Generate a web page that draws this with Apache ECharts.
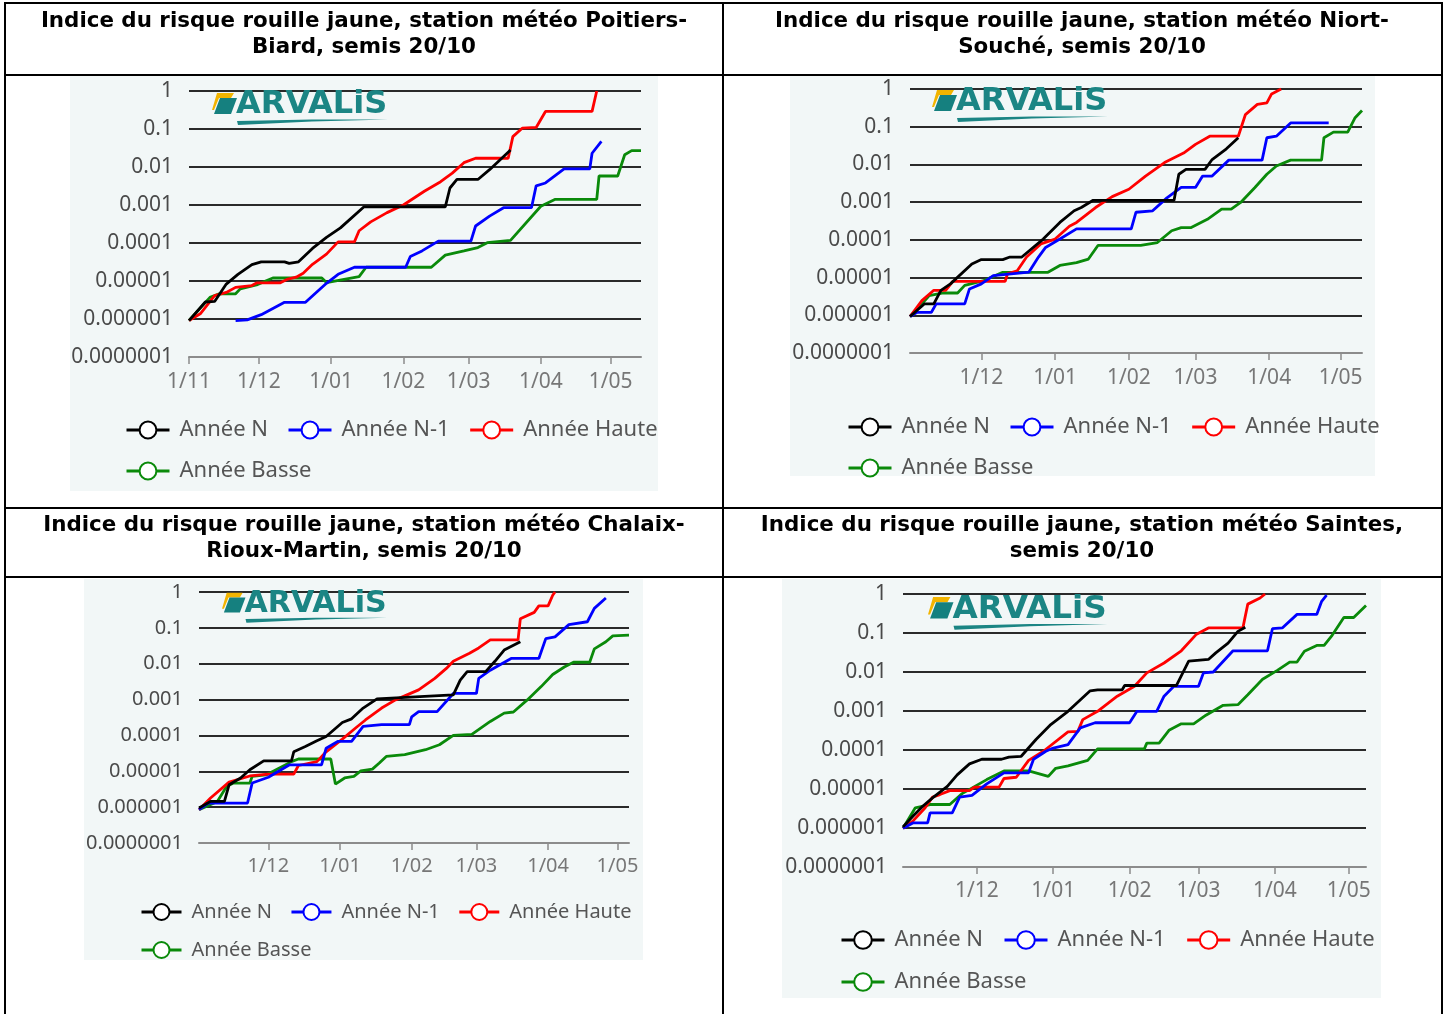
<!DOCTYPE html>
<html><head><meta charset="utf-8">
<script src="https://cdn.jsdelivr.net/npm/echarts/dist/echarts.min.js"></script>
<style>html,body{margin:0;padding:0;background:#fff}#c{width:1445px;height:1014px}</style>
</head><body><div id="c"></div>
<script>
// ---------- DATA ----------
const seriesNames = ['Année N', 'Année N-1', 'Année Haute', 'Année Basse'];
const monthTickDays = [0, 30, 61, 92, 120, 151, 181];            // days since 1 Nov
const monthTickLabels = ['1/11', '1/12', '1/01', '1/02', '1/03', '1/04', '1/05'];
const yTickLabels = ['0.0000001', '0.000001', '0.00001', '0.0001', '0.001', '0.01', '0.1', '1'];
const titleLines = [
  ['Indice du risque rouille jaune, station météo Poitiers-', 'Biard, semis 20/10'],
  ['Indice du risque rouille jaune, station météo Niort-', 'Souché, semis 20/10'],
  ['Indice du risque rouille jaune, station météo Chalaix-', 'Rioux-Martin, semis 20/10'],
  ['Indice du risque rouille jaune, station météo Saintes,', 'semis 20/10']
];
const logoText = 'ARVALiS';

// [day since 1 Nov, risk index]
const poitiersN = [[0,9.1e-7],[7,2.8e-6],[11,2.9e-6],[16,8.3e-6],[21,1.5e-5],[27,2.7e-5],[31,3.2e-5],[41,3.2e-5],[43,2.9e-5],[47,3.2e-5],[53,7.2e-5],[59,1.4e-4],[65,2.5e-4],[75,8.9e-4],[110,8.9e-4],[112,2.8e-3],[115,4.7e-3],[124,4.7e-3],[129,8.5e-3],[138,2.8e-2]];
const poitiersN1 = [[20,9.1e-7],[25,9.5e-7],[31,1.3e-6],[41,2.75e-6],[50,2.75e-6],[59,8.7e-6],[64,1.5e-5],[71,2.3e-5],[93,2.3e-5],[95,4.4e-5],[100,6.2e-5],[107,1.12e-4],[121,1.12e-4],[123,2.8e-4],[129,5.1e-4],[135,8.5e-4],[147,8.5e-4],[149,3.2e-3],[153,3.8e-3],[161,8.9e-3],[172,8.9e-3],[173,2.3e-2],[177,4.7e-2]];
const poitiersHaute = [[0,9.1e-7],[5,1.4e-6],[11,4.1e-6],[16,5.0e-6],[20,6.8e-6],[27,7.6e-6],[29,8.9e-6],[39,8.9e-6],[42,1.1e-5],[46,1.26e-5],[49,1.6e-5],[53,2.75e-5],[59,5.1e-5],[64,1.07e-4],[71,1.07e-4],[73,2.1e-4],[78,3.6e-4],[85,6.3e-4],[92,1.0e-3],[101,2.3e-3],[108,4.1e-3],[113,6.9e-3],[118,1.3e-2],[123,1.7e-2],[137,1.7e-2],[139,6.3e-2],[143,0.105],[149,0.11],[153,0.29],[173,0.29],[175,1]];
const poitiersBasse = [[0,9.1e-7],[9,3.7e-6],[13,4.6e-6],[20,4.6e-6],[22,6.2e-6],[29,7.9e-6],[36,1.2e-5],[57,1.2e-5],[59,9.1e-6],[73,1.3e-5],[76,2.3e-5],[104,2.3e-5],[110,4.8e-5],[118,6.2e-5],[124,7.6e-5],[128,1.02e-4],[138,1.17e-4],[151,9.3e-4],[157,1.4e-3],[175,1.4e-3],[176,5.8e-3],[184,5.8e-3],[187,2.1e-2],[190,2.7e-2],[194,2.7e-2]];

const niortN = [[0,9.3e-7],[6,2.0e-6],[10,2.0e-6],[13,4.6e-6],[17,6.8e-6],[26,2.3e-5],[30,3.0e-5],[39,3.0e-5],[42,3.5e-5],[47,3.5e-5],[56,1.05e-4],[63,2.9e-4],[69,5.9e-4],[72,7.2e-4],[77,1.12e-3],[111,1.12e-3],[113,5.5e-3],[116,7.4e-3],[124,7.4e-3],[127,1.35e-2],[133,2.6e-2],[138,5.1e-2]];
const niortN1 = [[0,9.3e-7],[3,1.2e-6],[9,1.2e-6],[11,2.0e-6],[23,2.0e-6],[25,5.0e-6],[30,6.8e-6],[35,1.12e-5],[50,1.4e-5],[54,3.5e-5],[57,6.3e-5],[63,1.05e-4],[70,1.95e-4],[93,1.95e-4],[95,5.4e-4],[102,5.9e-4],[108,1.3e-3],[114,2.45e-3],[120,2.45e-3],[123,4.9e-3],[127,4.9e-3],[134,1.3e-2],[148,1.3e-2],[150,5.1e-2],[154,5.6e-2],[160,0.126],[176,0.126]];
const niortHaute = [[0,9.3e-7],[5,2.45e-6],[10,4.6e-6],[15,4.6e-6],[18,7.9e-6],[40,7.9e-6],[41,1.26e-5],[45,1.5e-5],[49,3.5e-5],[55,7.8e-5],[61,1.05e-4],[67,2.3e-4],[70,2.9e-4],[78,7.2e-4],[85,1.4e-3],[92,2.2e-3],[99,4.9e-3],[107,1.12e-2],[115,2.0e-2],[120,3.4e-2],[126,5.6e-2],[138,5.6e-2],[141,0.21],[146,0.39],[150,0.43],[152,0.74],[156,1]];
const niortBasse = [[0,9.3e-7],[5,2.0e-6],[8,3.3e-6],[14,3.9e-6],[20,3.9e-6],[23,6.2e-6],[31,8.3e-6],[39,1.38e-5],[58,1.38e-5],[63,2.1e-5],[70,2.5e-5],[75,3.1e-5],[79,7.1e-5],[97,7.1e-5],[104,8.5e-5],[110,1.74e-4],[114,2.1e-4],[118,2.1e-4],[125,3.5e-4],[131,6.5e-4],[135,6.5e-4],[139,9.8e-4],[145,2.45e-3],[150,5.5e-3],[154,9.1e-3],[160,1.3e-2],[173,1.3e-2],[174,5.1e-2],[178,7.2e-2],[184,7.2e-2],[187,0.17],[190,0.27]];

const chalaixN = [[0,9.5e-7],[5,1.45e-6],[11,1.45e-6],[13,4.2e-6],[18,6.5e-6],[22,1.1e-5],[28,1.95e-5],[40,1.95e-5],[41,3.5e-5],[46,4.9e-5],[51,7.1e-5],[55,9.3e-5],[62,2.3e-4],[66,2.9e-4],[71,5.8e-4],[77,1.05e-3],[110,1.35e-3],[113,3.5e-3],[116,6.0e-3],[124,6.0e-3],[128,1.17e-2],[132,2.4e-2],[139,4.1e-2]];
const chalaixN1 = [[0,8.5e-7],[4,1.3e-6],[21,1.3e-6],[23,4.7e-6],[30,6.8e-6],[39,1.5e-5],[53,1.5e-5],[55,4.4e-5],[60,6.8e-5],[66,6.8e-5],[71,1.78e-4],[79,2.0e-4],[91,2.0e-4],[92,3.3e-4],[95,4.6e-4],[103,4.6e-4],[110,1.48e-3],[120,1.48e-3],[121,3.9e-3],[126,6.6e-3],[135,1.4e-2],[147,1.4e-2],[150,5.0e-2],[154,5.6e-2],[160,0.123],[168,0.148],[171,0.35],[176,0.68]];
const chalaixHaute = [[0,8.5e-7],[5,1.8e-6],[13,5.0e-6],[22,7.4e-6],[30,8.3e-6],[41,8.3e-6],[43,1.45e-5],[51,1.86e-5],[55,3.5e-5],[62,7.9e-5],[68,1.66e-4],[72,2.7e-4],[79,5.8e-4],[85,9.8e-4],[95,1.86e-3],[102,3.9e-3],[107,7.4e-3],[110,1.17e-2],[117,1.95e-2],[121,2.75e-2],[126,4.6e-2],[138,4.6e-2],[139,0.18],[145,0.27],[147,0.41],[151,0.41],[153,0.81],[154,1]];
const chalaixBasse = [[0,8.5e-7],[8,1.45e-6],[12,3.8e-6],[15,4.7e-6],[22,4.7e-6],[23,7.2e-6],[29,7.9e-6],[40,1.86e-5],[43,2.2e-5],[57,2.2e-5],[59,4.4e-6],[63,6.5e-6],[67,7.2e-6],[70,1.02e-5],[75,1.15e-5],[78,1.7e-5],[81,2.6e-5],[89,2.9e-5],[98,4.0e-5],[104,5.5e-5],[110,1.0e-4],[118,1.07e-4],[126,2.45e-4],[132,4.2e-4],[136,4.5e-4],[142,9.8e-4],[148,2.3e-3],[153,5.0e-3],[158,8.1e-3],[162,1.1e-2],[169,1.1e-2],[171,2.6e-2],[176,4.1e-2],[179,6.0e-2],[186,6.3e-2]];

const saintesN = [[0,1.07e-6],[4,2.0e-6],[8,3.6e-6],[12,5.9e-6],[18,1.17e-5],[22,2.3e-5],[27,4.4e-5],[32,5.8e-5],[40,5.8e-5],[43,6.6e-5],[48,6.9e-5],[54,1.86e-4],[60,4.5e-4],[67,9.8e-4],[76,3.3e-3],[79,3.5e-3],[89,3.5e-3],[90,4.5e-3],[111,4.5e-3],[116,1.9e-2],[124,2.1e-2],[127,3.1e-2],[132,5.5e-2],[136,0.11],[139,0.14]];
const saintesN1 = [[0,9.8e-7],[4,1.35e-6],[10,1.35e-6],[11,2.45e-6],[20,2.45e-6],[23,6.2e-6],[28,6.9e-6],[34,1.35e-5],[41,2.6e-5],[51,2.6e-5],[53,5.8e-5],[58,9.3e-5],[61,1.12e-4],[67,1.38e-4],[72,3.7e-4],[78,5.0e-4],[92,5.0e-4],[95,9.8e-4],[103,9.8e-4],[106,2.4e-3],[110,4.3e-3],[120,4.3e-3],[122,9.5e-3],[126,1.0e-2],[134,3.5e-2],[148,3.5e-2],[150,0.129],[154,0.135],[160,0.3],[168,0.3],[170,0.65],[172,0.93]];
const saintesHaute = [[0,9.8e-7],[4,1.5e-6],[9,3.3e-6],[12,6.2e-6],[15,7.2e-6],[19,9.1e-6],[27,9.1e-6],[29,1.12e-5],[39,1.12e-5],[41,1.86e-5],[46,2.0e-5],[51,5.4e-5],[57,9.3e-5],[67,2.9e-4],[71,3.0e-4],[73,6.0e-4],[79,9.8e-4],[87,2.4e-3],[94,4.3e-3],[99,9.5e-3],[106,1.7e-2],[113,3.5e-2],[119,9.1e-2],[124,0.135],[138,0.135],[140,0.55],[145,0.79],[147,1]];
const saintesBasse = [[0,9.8e-7],[5,3.3e-6],[11,4.0e-6],[19,4.0e-6],[24,7.6e-6],[34,1.74e-5],[41,2.9e-5],[51,2.9e-5],[59,2.1e-5],[62,3.4e-5],[67,3.9e-5],[75,5.4e-5],[79,1.07e-4],[98,1.07e-4],[99,1.5e-4],[104,1.5e-4],[108,3.2e-4],[113,4.7e-4],[118,4.7e-4],[123,7.8e-4],[130,1.4e-3],[136,1.45e-3],[140,2.6e-3],[146,6.5e-3],[152,1.1e-2],[157,1.8e-2],[160,1.8e-2],[163,3.4e-2],[168,4.8e-2],[171,4.8e-2],[174,8.3e-2],[179,0.25],[183,0.25],[188,0.51]];

const panelData = [
  [poitiersN, poitiersN1, poitiersHaute, poitiersBasse],
  [niortN, niortN1, niortHaute, niortBasse],
  [chalaixN, chalaixN1, chalaixHaute, chalaixBasse],
  [saintesN, saintesN1, saintesHaute, saintesBasse]
];

// ---------- LAYOUT / STYLE ----------
const seriesColors = ['#000000', '#0000ff', '#ff0000', '#0a8a0a'];
const drawOrder = [3, 2, 1, 0]; // Basse, Haute, N-1, N on top
const FONT = '"Noto Sans", "Open Sans", sans-serif';
const panels = [
  { grid: {left: 189, top: 91, width: 452, height: 266}, xMax: 194, firstTick: true,
    bg: [70, 76, 588, 415], lg: {left: 125, top: 419, gap: 19, font: 22, h: 21, w: 43}, yFont: 21, xFont: 21, xMargin: 15, logo: [212, 89, 1.0], title: [364, 21] },
  { grid: {left: 910, top: 89, width: 452, height: 264}, xMax: 190, firstTick: false,
    bg: [790, 76, 585, 400], lg: {left: 847, top: 416, gap: 19, font: 22, h: 21, w: 43}, yFont: 21, xFont: 21, xMargin: 15, logo: [932, 86, 1.0], title: [1082, 21] },
  { grid: {left: 199, top: 592, width: 430, height: 251}, xMax: 186, firstTick: false,
    bg: [84, 579, 559, 381], lg: {left: 140, top: 902, gap: 18, font: 20, h: 20, w: 40}, yFont: 20, xFont: 20, xMargin: 13, logo: [222, 589, 0.94], title: [364, 525] },
  { grid: {left: 903, top: 594, width: 463, height: 273}, xMax: 188, firstTick: false,
    bg: [782, 579, 599, 419], lg: {left: 840, top: 929, gap: 20, font: 22, h: 22, w: 43}, yFont: 21, xFont: 21, xMargin: 14, logo: [928, 593, 1.02], title: [1082, 525] }
];

const grids = [], xAxes = [], yAxes = [], legends = [], series = [], graphics = [];

// table borders
const B = '#000';
[[4, 3, 1443, 3], [4, 75, 1443, 75], [4, 508, 1443, 508], [4, 577, 1443, 577],
 [5, 2, 5, 1014], [723, 2, 723, 1014], [1442, 2, 1442, 1014]].forEach(l => {
  graphics.push({type: 'line', z: 50, shape: {x1: l[0], y1: l[1], x2: l[2], y2: l[3]}, style: {stroke: B, lineWidth: 2}});
});

panels.forEach((p, i) => {
  // chart image background
  graphics.push({type: 'rect', z: -100, shape: {x: p.bg[0], y: p.bg[1], width: p.bg[2], height: p.bg[3]}, style: {fill: '#f2f7f7'}});
  // titles
  titleLines[i].forEach((t, k) => {
    graphics.push({type: 'text', z: 50, x: p.title[0], y: p.title[1] + k * 26,
      style: {text: t, font: 'bold 21.4px "DejaVu Sans", Verdana, sans-serif', fill: '#000', textAlign: 'center', textVerticalAlign: 'middle'}});
  });
  // logo
  graphics.push({type: 'group', z: 5, x: p.logo[0], y: p.logo[1], scaleX: p.logo[2], scaleY: p.logo[2], children: [
    {type: 'polygon', z: 5, shape: {points: [[5, 4], [22, 4], [19, 9], [7, 9], [2, 21], [0, 21]]}, style: {fill: '#f2b400'}},
    {type: 'polygon', z: 5, shape: {points: [[8, 9], [25, 9], [19, 25], [2, 25]]}, style: {fill: '#15807f'}},
    {type: 'text', z: 5, x: 24, y: 16, style: {text: logoText, font: 'bold 32px "DejaVu Sans", sans-serif', fill: '#1b8584', textVerticalAlign: 'middle'}},
    {type: 'polygon', z: 5, shape: {points: [[25, 32], [100, 30.5], [176, 30.5], [100, 32.5], [26, 36]]}, style: {fill: '#1b8584'}}
  ]});

  grids.push(Object.assign({outerBoundsMode: 'none', containLabel: false}, p.grid));
  const ticks = p.firstTick ? monthTickDays : monthTickDays.slice(1);
  xAxes.push({
    type: 'value', gridIndex: i, min: 0, max: p.xMax,
    axisLine: {show: true, onZero: false, lineStyle: {color: '#8c8c8c', width: 2}},
    axisTick: {show: true, customValues: ticks, length: 7, lineStyle: {color: '#8c8c8c', width: 1.5}},
    axisLabel: {customValues: ticks, margin: p.xMargin, fontSize: p.xFont, fontFamily: FONT, color: '#777',
      formatter: v => monthTickLabels[monthTickDays.indexOf(Math.round(v))]},
    splitLine: {show: false}
  });
  yAxes.push({
    type: 'log', logBase: 10, gridIndex: i, min: 1e-7, max: 1, splitNumber: 7,
    axisLine: {show: false}, axisTick: {show: false},
    axisLabel: {margin: 16, fontSize: p.yFont, fontFamily: FONT, color: '#4a4a4a',
      formatter: v => yTickLabels[Math.round(Math.log10(v)) + 7]},
    splitLine: {show: true, lineStyle: {width: 2, color: ['#8c8c8c', '#2a2a2a', '#2a2a2a', '#2a2a2a', '#2a2a2a', '#2a2a2a', '#2a2a2a', '#2a2a2a']}}
  });
  legends.push({
    left: p.lg.left, top: p.lg.top, width: 570, padding: 0, orient: 'horizontal',
    itemWidth: p.lg.w, itemHeight: p.lg.h, itemGap: p.lg.gap, data: seriesNames,
    lineStyle: {width: 3},
    textStyle: {fontSize: p.lg.font, fontFamily: FONT, color: '#555', padding: [0, 0, 0, 5]}
  });
  drawOrder.forEach(s => {
    series.push({
      type: 'line', name: seriesNames[s], xAxisIndex: i, yAxisIndex: i,
      data: panelData[i][s], symbol: 'emptyCircle', showSymbol: false, symbolSize: 8,
      color: seriesColors[s], lineStyle: {width: 2.8, color: seriesColors[s]},
      emphasis: {disabled: true}, silent: true, z: 3
    });
  });
});

const chart = echarts.init(document.getElementById('c'), null, {renderer: 'canvas'});
chart.setOption({
  animation: false,
  backgroundColor: '#ffffff',
  grid: grids, xAxis: xAxes, yAxis: yAxes, legend: legends, series: series,
  graphic: {elements: graphics}
});
</script></body></html>
